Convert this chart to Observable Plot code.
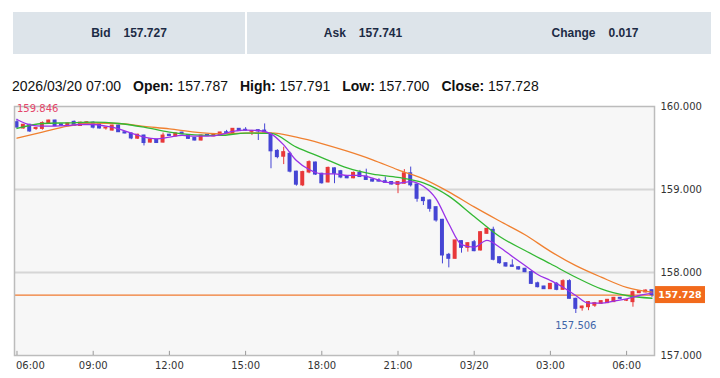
<!DOCTYPE html>
<html><head><meta charset="utf-8">
<script src="https://cdn.jsdelivr.net/npm/d3@7"></script>
<script src="https://cdn.jsdelivr.net/npm/@observablehq/plot@0.6"></script>
<style>
html,body{margin:0;padding:0;background:#fff;width:720px;height:378px;overflow:hidden;position:relative;font-family:"Liberation Sans",Arial,sans-serif;}
.box{position:absolute;top:12px;height:42px;width:232px;background:#dde4ea;display:flex;align-items:center;justify-content:center;font-size:12px;font-weight:bold;color:#1c2b45;}
.box span+span{margin-left:13px;}
#ohlc{position:absolute;left:12px;top:77px;font-size:14px;color:#111;white-space:nowrap;line-height:18px;}
#ohlc span.item{margin-right:12px;}
#chart{position:absolute;left:0;top:96px;}
</style></head>
<body>
<div id="header"></div>
<div id="ohlc"></div>
<div id="chart"></div>
<script>
// ---- data ----
const headerLabels = ["Bid", "Ask", "Change"];
const headerValues = ["157.727", "157.741", "0.017"];
const lastBarLabel = "2026/03/20 07:00";
const ohlcLabels = ["Open:", "High:", "Low:", "Close:"];

const startTime = "2026-03-19T06:00:00Z";
const stepMin = 15;

const opens = [159.811,159.735,159.780,159.729,159.730,159.791,159.831,159.785,159.765,159.815,
159.765,159.780,159.805,159.785,159.735,159.710,159.770,159.690,159.675,159.612,
159.650,159.565,159.600,159.565,159.660,159.640,159.685,159.655,159.620,159.590,
159.658,159.640,159.651,159.690,159.678,159.731,159.720,159.695,159.715,159.710,
159.660,159.465,159.395,159.430,159.215,159.050,159.205,159.325,159.190,159.085,
159.255,159.220,159.155,159.135,159.200,159.155,159.120,159.110,159.100,159.090,
159.055,159.070,159.195,159.060,158.900,158.868,158.787,158.635,158.213,158.165,
158.378,158.297,158.365,158.265,158.466,158.514,158.185,158.112,158.084,158.064,
158.045,158.005,157.870,157.831,157.799,157.863,157.791,157.896,157.683,157.570,
157.582,157.600,157.623,157.631,157.643,157.695,157.660,157.643,157.751,157.760,157.787];
const highs = [159.846,159.785,159.785,159.745,159.815,159.835,159.835,159.790,159.800,159.825,
159.810,159.815,159.815,159.790,159.750,159.775,159.775,159.695,159.680,159.665,
159.655,159.610,159.605,159.680,159.665,159.680,159.690,159.660,159.625,159.655,
159.662,159.665,159.690,159.712,159.735,159.735,159.745,159.712,159.720,159.790,
159.680,159.480,159.510,159.450,159.220,159.220,159.345,159.330,159.195,159.270,
159.260,159.230,159.160,159.210,159.230,159.245,159.125,159.130,159.150,159.095,
159.095,159.240,159.270,159.065,158.905,158.875,158.790,158.640,158.230,158.390,
158.385,158.360,158.386,158.490,158.530,158.546,158.190,158.115,158.153,158.068,
158.050,158.020,157.884,157.835,157.868,157.880,157.912,157.912,157.690,157.595,
157.650,157.640,157.660,157.675,157.700,157.700,157.672,157.775,157.780,157.790,157.791];
const lows = [159.735,159.728,159.690,159.712,159.715,159.785,159.760,159.765,159.760,159.760,
159.760,159.775,159.730,159.730,159.715,159.705,159.688,159.670,159.600,159.605,
159.525,159.560,159.555,159.560,159.640,159.635,159.660,159.605,159.585,159.585,
159.640,159.635,159.648,159.678,159.675,159.700,159.705,159.650,159.590,159.680,
159.250,159.370,159.300,159.200,159.040,159.035,159.190,159.170,159.065,159.080,
159.070,159.130,159.130,159.130,159.145,159.110,159.090,159.090,159.075,159.055,
158.950,159.065,159.030,158.847,158.807,158.727,158.606,158.104,158.056,158.160,
158.233,158.245,158.250,158.260,158.460,158.140,158.100,158.065,158.064,158.030,
157.998,157.855,157.815,157.795,157.795,157.780,157.788,157.680,157.506,157.534,
157.540,157.580,157.615,157.625,157.640,157.675,157.650,157.582,157.745,157.755,157.700];
const closes = [159.747,159.780,159.699,159.741,159.800,159.831,159.763,159.770,159.795,159.765,
159.805,159.810,159.745,159.735,159.745,159.770,159.690,159.675,159.615,159.660,
159.560,159.605,159.560,159.650,159.645,159.675,159.665,159.610,159.590,159.650,
159.643,159.660,159.687,159.682,159.731,159.703,159.710,159.705,159.700,159.685,
159.460,159.390,159.450,159.215,159.058,159.210,159.330,159.180,159.075,159.260,
159.190,159.145,159.135,159.200,159.150,159.115,159.095,159.095,159.080,159.060,
159.090,159.195,159.050,158.888,158.860,158.767,158.627,158.205,158.165,158.386,
158.297,158.353,158.257,158.486,158.526,158.153,158.112,158.072,158.068,158.036,
158.004,157.863,157.823,157.799,157.863,157.791,157.896,157.683,157.562,157.590,
157.643,157.631,157.655,157.671,157.695,157.683,157.667,157.763,157.775,157.783,157.728];

// moving averages (purple: every 2 bars, green/orange: every 4 bars)
const maFastStep = 2;
const maFast = [159.843,159.779,159.763,159.763,159.771,159.783,159.783,159.763,159.731,159.678,
159.631,159.611,159.631,159.651,159.643,159.643,159.659,159.699,159.715,159.711,
159.671,159.538,159.349,159.241,159.189,159.189,159.169,159.169,159.137,159.088,
159.076,159.096,159.040,158.888,158.587,158.337,158.305,158.386,158.305,158.193,
158.084,157.976,157.904,157.823,157.723,157.630,157.630,157.655,157.683,157.723,157.751];
const maMidStep = 4;
const maMid = [159.735,159.795,159.803,159.811,159.795,159.751,159.691,159.659,159.651,159.680,
159.675,159.510,159.385,159.260,159.185,159.145,159.080,158.920,158.675,158.434,
158.265,158.105,157.943,157.803,157.723,157.690];
const maSlowStep = 4;
const maSlow = [159.620,159.691,159.764,159.801,159.795,159.760,159.731,159.691,159.671,159.679,
159.683,159.631,159.554,159.462,159.358,159.237,159.129,158.972,158.790,158.620,
158.455,158.255,158.082,157.944,157.821,157.763];

const yTicks = [157, 158, 159, 160];
const yGrid = [158, 159];
const xTickTimes = ["2026-03-19T06:00:00Z","2026-03-19T09:00:00Z","2026-03-19T12:00:00Z","2026-03-19T15:00:00Z",
  "2026-03-19T18:00:00Z","2026-03-19T21:00:00Z","2026-03-20T00:00:00Z","2026-03-20T03:00:00Z","2026-03-20T06:00:00Z"];
const xTickLabels = ["06:00","09:00","12:00","15:00","18:00","21:00","03/20","03:00","06:00"];

// ---- header ----
const header = document.getElementById("header");
const boxLefts = [13, 247, 479];
headerLabels.forEach((l, k) => {
  const b = document.createElement("div");
  b.className = "box";
  b.style.left = boxLefts[k] + "px";
  b.innerHTML = `<span>${l}</span><span>${headerValues[k]}</span>`;
  header.appendChild(b);
});
const fmt3 = d3.format(".3f");
const n = opens.length;
const lastVals = [opens[n-1], highs[n-1], lows[n-1], closes[n-1]];
document.getElementById("ohlc").innerHTML =
  `<span class="item">${lastBarLabel}</span>` +
  ohlcLabels.map((l,k)=>`<span class="item"><b>${l}</b> ${fmt3(lastVals[k])}</span>`).join("");

// ---- chart ----
const t0 = Date.parse(startTime);
const MS = 60000;
const data = opens.map((o, i) => ({t: new Date(t0 + i*stepMin*MS), o, h: highs[i], l: lows[i], c: closes[i]}));
const mk = (arr, step) => arr.map((v, k) => ({t: new Date(t0 + k*step*stepMin*MS), v}));
const pad = 5.9*MS;
const xDomain = [new Date(t0 - pad), new Date(t0 + (n-1)*stepMin*MS + pad)];
const half = 4.7*MS;
const upColor = "#e8383a", downColor = "#4545d4";
const colorOf = d => d.c >= d.o ? upColor : downColor;
const tickDates = xTickTimes.map(s => new Date(s));
const labelMap = new Map(tickDates.map((d, i) => [+d, xTickLabels[i]]));
const lastPrice = closes[n-1];
const maxBar = data.reduce((a, b) => b.h > a.h ? b : a);
const minBar = data.reduce((a, b) => b.l < a.l ? b : a);

const chart = Plot.plot({
  width: 720, height: 282,
  marginTop: 10, marginBottom: 23, marginLeft: 14, marginRight: 66,
  x: {type: "utc", domain: xDomain, label: null},
  y: {domain: [157, 160], label: null},
  style: {fontFamily: "'DejaVu Sans', Verdana, sans-serif", fontSize: "10px", color: "#333", background: "transparent"},
  marks: [
    Plot.frame({fill: "#f7f7f7", stroke: null}),
    Plot.ruleY(yGrid, {stroke: "#d6d6d6", strokeWidth: 2}),
    Plot.ruleY([lastPrice], {stroke: "#f07a30", strokeWidth: 1.2}),
    Plot.ruleX(data, {x: "t", y1: "l", y2: "h", stroke: colorOf, strokeWidth: 1}),
    Plot.rect(data, {x1: d => new Date(+d.t - half), x2: d => new Date(+d.t + half),
      y1: d => Math.min(d.o, d.c), y2: d => Math.max(d.o, d.c), fill: colorOf, insetTop: -0.5, insetBottom: -0.5}),
    Plot.line(mk(maSlow, maSlowStep), {x: "t", y: "v", stroke: "#f08030", strokeWidth: 1.3, curve: "monotone-x"}),
    Plot.line(mk(maMid, maMidStep), {x: "t", y: "v", stroke: "#33b833", strokeWidth: 1.3, curve: "monotone-x"}),
    Plot.line(mk(maFast, maFastStep), {x: "t", y: "v", stroke: "#9a30e8", strokeWidth: 1.3, curve: "monotone-x"}),
    Plot.frame({stroke: "#bcbcbc", strokeWidth: 1.5}),
    Plot.ruleX(tickDates, {x: d => d, y1: 157, y2: 157.05, stroke: "#9a9a9a"}),
    Plot.axisY(yTicks, {anchor: "right", tickSize: 0, tickPadding: 6, tickFormat: fmt3, textAnchor: "start", label: null}),
    Plot.axisX(tickDates.slice(0, 1), {tickSize: 0, tickPadding: 6, tickFormat: d => labelMap.get(+d), textAnchor: "start", dx: -1, label: null}),
    Plot.axisX(tickDates.slice(1), {tickSize: 0, tickPadding: 6, tickFormat: d => labelMap.get(+d), label: null}),
    Plot.text([maxBar], {x: "t", y: "h", text: d => fmt3(d.h), fill: "#e5466a", textAnchor: "start", dy: -10, dx: 0}),
    Plot.text([minBar], {x: "t", y: "l", text: d => fmt3(d.l), fill: "#4065a8", dy: 12})
  ]
});
document.getElementById("chart").appendChild(chart);

// current price tag positioned with the chart's own y scale
const ys = chart.scale("y");
const yPix = ys.apply ? ys.apply(lastPrice) : d3.scaleLinear(ys.domain, ys.range)(lastPrice);
const svg = d3.select(chart);
const g = svg.append("g");
g.append("rect").attr("x", 655).attr("y", yPix - 8.5).attr("width", 50).attr("height", 17).attr("fill", "#f26a1c");
g.append("text").attr("x", 680).attr("y", yPix).attr("dy", "0.35em").attr("text-anchor", "middle")
  .attr("fill", "#fff").attr("font-weight", "bold").attr("font-size", "9.5px")
  .attr("font-family", "'DejaVu Sans', Verdana, sans-serif").text(fmt3(lastPrice));
</script>
</body></html>
